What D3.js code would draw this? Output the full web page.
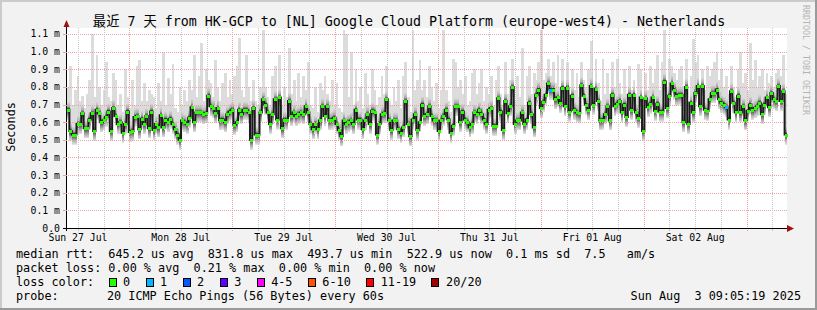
<!DOCTYPE html>
<html>
<head>
<meta charset="utf-8">
<script src="https://cdn.jsdelivr.net/npm/d3@7"></script>
<style>
body { margin: 0; background: #f2f2f2; }
svg text { font-family: "DejaVu Sans Mono", "Noto Sans CJK SC", monospace; white-space: pre; fill: #000; }
</style>
</head>
<body>
<svg id="chart" width="817" height="310"></svg>
<script>
// median rtt per step, in ms
const rttMedian = [
    0.67,0.55,0.53,0.53,0.59,0.59,0.65,0.565,0.565,0.615,
    0.65,0.55,0.67,0.65,0.60,0.61,0.63,0.66,0.55,0.68,
    0.635,0.59,0.60,0.54,0.59,0.66,0.545,0.55,0.63,0.635,
    0.56,0.62,0.59,0.635,0.565,0.66,0.555,0.59,0.57,0.64,
    0.57,0.615,0.60,0.62,0.59,0.56,0.53,0.50,0.61,0.60,
    0.59,0.625,0.685,0.60,0.655,0.655,0.655,0.645,0.65,0.75,
    0.69,0.68,0.65,0.68,0.61,0.615,0.60,0.645,0.66,0.67,
    0.585,0.60,0.67,0.645,0.67,0.67,0.655,0.50,
    0.68,0.53,0.53,0.655,0.73,0.70,0.655,0.59,0.645,0.73,
    0.615,0.74,0.565,0.615,0.61,0.72,0.635,0.655,0.635,0.645,
    0.655,0.645,0.69,0.655,0.59,0.56,0.59,0.56,0.61,0.69,
    0.635,0.69,0.61,0.615,0.625,0.59,0.555,0.52,0.61,0.59,
    0.60,0.61,0.59,0.67,0.615,0.615,0.56,0.61,0.645,0.59,
    0.665,0.655,0.53,0.59,0.645,0.65,0.73,0.61,0.555,0.61,
    0.61,0.56,0.54,0.57,0.72,0.59,0.52,0.615,0.645,0.555,
    0.60,0.70,0.635,0.645,0.69,
    0.635,0.61,0.61,0.55,0.61,0.635,0.67,0.615,0.54,0.58,
    0.69,0.69,0.60,0.66,0.615,0.60,0.57,0.59,0.655,0.645,
    0.67,0.645,0.615,0.59,0.67,0.68,0.58,0.58,0.735,0.66,
    0.555,0.72,0.65,0.69,0.80,0.59,0.61,0.61,0.655,0.59,
    0.615,0.71,0.645,0.57,0.755,0.785,0.68,0.715,0.755,0.82,
    0.785,0.785,0.73,0.74,0.71,0.795,0.69,0.795,0.66,0.75,
    0.67,0.655,0.65,0.81,0.75,0.70,0.67,0.805,0.70,0.79,
    0.72,0.61,0.615,0.645,0.69,
    0.61,0.755,0.69,0.705,0.72,0.655,0.70,0.63,0.755,0.67,
    0.755,0.655,0.625,0.74,0.55,0.735,0.685,0.705,0.74,0.665,
    0.705,0.66,0.66,0.83,0.68,0.75,0.82,0.785,0.75,0.755,
    0.755,0.60,0.80,0.59,0.71,0.655,0.765,0.805,0.69,0.805,
    0.67,0.665,0.73,0.765,0.765,0.785,0.73,0.71,0.70,0.685,
    0.615,0.775,0.71,0.655,0.75,0.655,0.69,0.61,0.665,0.70,
    0.67,0.68,0.69,0.71,0.645,0.70,0.74,0.685,0.765,0.73,
    0.72,0.805,0.72,0.775,0.53
];

// slowest ping per step (top of the smoke), in ms
const rttMax = [
    0.80,0.92,0.70,0.78,0.86,0.72,0.75,0.68,0.76,0.84,
    1.10,0.74,0.98,0.80,0.70,0.78,0.94,0.74,0.72,0.88,
    0.84,0.70,0.76,0.66,0.90,0.74,0.68,0.84,0.70,0.92,
    0.95,0.72,0.82,0.72,0.78,0.76,0.74,0.68,0.82,0.72,
    1.00,0.70,0.85,0.76,0.93,0.68,0.66,0.80,0.70,0.78,
    0.72,0.84,0.78,0.98,0.74,0.86,1.05,0.72,0.90,0.84,
    0.82,0.74,0.95,0.80,0.72,0.82,0.88,0.74,0.84,0.76,
    0.86,0.92,1.08,0.78,0.74,0.98,0.80,0.72,
    0.84,0.72,0.70,0.80,1.12,0.80,0.74,0.70,0.86,0.92,
    0.72,0.98,0.70,0.80,0.74,1.02,0.76,0.84,0.72,0.88,
    0.74,0.86,0.78,0.94,0.70,0.68,0.80,0.66,0.82,0.78,
    0.86,0.76,0.72,0.84,0.70,0.82,0.68,0.66,1.12,1.10,
    0.74,1.00,0.70,0.90,0.72,0.80,0.68,0.88,0.76,0.70,
    0.90,0.78,0.70,0.74,0.86,0.76,0.92,0.72,0.70,0.80,
    0.72,0.84,0.68,0.86,0.94,0.74,0.66,1.12,0.78,0.84,
    0.95,0.78,0.84,0.74,0.92,
    0.80,0.72,0.82,0.68,0.78,1.12,0.78,0.72,0.66,0.96,
    0.94,0.80,0.84,0.76,0.86,0.70,0.72,0.88,0.90,0.76,
    0.82,0.90,0.72,0.80,0.76,0.86,0.70,0.84,0.92,0.76,
    0.70,0.94,0.76,0.84,0.96,0.72,0.86,0.74,1.02,0.70,
    0.86,0.92,0.76,0.88,0.84,0.94,1.12,0.84,0.88,0.96,
    0.86,0.94,0.82,0.98,0.80,0.96,0.78,0.94,0.76,0.90,
    0.78,0.88,0.74,0.94,0.84,0.80,0.90,1.06,0.80,0.96,
    0.82,0.72,0.96,0.76,0.88,
    0.76,0.94,0.80,0.96,0.82,0.76,0.90,0.72,0.92,0.78,
    0.84,0.76,0.93,0.90,0.70,0.88,0.78,0.92,0.82,0.90,
    0.98,0.78,0.94,1.12,0.80,0.96,0.92,0.88,0.84,0.90,
    0.92,0.76,0.96,0.72,0.86,1.07,0.94,0.98,0.80,0.90,
    0.78,0.92,0.86,0.90,0.94,1.00,0.84,0.90,0.80,0.86,
    0.76,0.92,0.80,0.74,0.90,1.00,0.82,0.88,0.78,1.05,
    0.84,0.95,0.80,0.86,0.90,0.78,0.88,0.82,0.86,0.80,
    0.88,0.90,0.86,0.98,0.76
];

// steps where one of the 20 pings was lost
const lossOneSteps = [203, 277];

const yTicks = [0, 0.1, 0.2, 0.3, 0.4, 0.5, 0.6, 0.7, 0.8, 0.9, 1.0, 1.1];
const dayLabels = ['Sun 27 Jul', 'Mon 28 Jul', 'Tue 29 Jul', 'Wed 30 Jul', 'Thu 31 Jul', 'Fri 01 Aug', 'Sat 02 Aug'];
const lossLegend = [
    ['0', '#26ff00'], ['1', '#00b8ff'], ['2', '#0059ff'], ['3', '#5e00ff'],
    ['4-5', '#ff00ff'], ['6-10', '#ff5500'], ['11-19', '#ff0000'], ['20/20', '#a10000']
];
const titleText = '最近 7 天 from HK-GCP to [NL] Google Cloud Platform (europe-west4) - Netherlands';
const statLines = [
    'median rtt:  645.2 us avg  831.8 us max  493.7 us min  522.9 us now  0.1 ms sd  7.5   am/s',
    'packet loss: 0.00 % avg  0.21 % max  0.00 % min  0.00 % now'
];
const probeText = '20 ICMP Echo Pings (56 Bytes) every 60s';
const stampText = 'Sun Aug  3 09:05:19 2025';

const start = Date.UTC(2025, 6, 27, 9, 26);
const end = start + 7 * 864e5;
const step = (end - start) / rttMedian.length;

const x = d3.scaleUtc().domain([start, end]).range([67, 787]);
const y = d3.scaleLinear().domain([0, 1.134]).range([228, 28]);
const px = v => Math.round(v) + 0.5;

const data = rttMedian.map((m, i) => ({
    t0: start + i * step,
    t1: start + (i + 1) * step,
    med: m,
    max: rttMax[i],
    color: lossOneSteps.includes(i) ? '#00b8ff' : '#26ff00'
}));

const svg = d3.select('#chart');

// frame
svg.append('rect').attr('width', 817).attr('height', 310).attr('fill', '#f2f2f2');
svg.append('path').attr('fill', '#cbcbcb').attr('d', 'M0,0H817V2H2V310H0Z');
svg.append('path').attr('fill', '#9a9a9a').attr('d', 'M817,0V310H0V308H815V0Z');

// canvas
svg.append('rect')
    .attr('x', 67).attr('y', 28)
    .attr('width', 720).attr('height', 200)
    .attr('fill', '#fff');

const grad = svg.append('defs').append('linearGradient')
    .attr('id', 'core')
    .attr('x1', 0).attr('y1', 0).attr('x2', 0).attr('y2', 1);
[[0, '#dadada'], [0.25, '#acacac'], [0.38, '#5a5a5a'], [0.45, '#303030'],
 [0.58, '#6c6c6c'], [0.78, '#b0b0b0'], [1, '#e2e2e2']].forEach(s => {
    grad.append('stop').attr('offset', s[0]).attr('stop-color', s[1]);
});

// smoke
const smoke = svg.append('g').attr('shape-rendering', 'crispEdges');

smoke.selectAll('rect.light')
    .data(data)
    .join('rect')
    .classed('light', true)
    .attr('x', d => x(d.t0))
    .attr('width', d => x(d.t1) - x(d.t0) + 0.4)
    .attr('y', d => y(d.max))
    .attr('height', d => y(d.med) + 9 - y(d.max))
    .attr('fill', '#dcdcdc');

smoke.selectAll('rect.core')
    .data(data)
    .join('rect')
    .classed('core', true)
    .attr('x', d => x(d.t0))
    .attr('width', d => x(d.t1) - x(d.t0) + 0.4)
    .attr('y', d => y(d.med) - 8)
    .attr('height', 18)
    .attr('fill', 'url(#core)');

// grid
const grid = svg.append('g').attr('shape-rendering', 'crispEdges');
const minorTimes = d3.utcHour.every(6).range(start, end).filter(t => t.getUTCHours() !== 0);
const majorTimes = d3.utcDay.range(start, end);

grid.selectAll('line.hgrid')
    .data(yTicks.slice(1))
    .join('line')
    .attr('x1', 64).attr('x2', 787)
    .attr('y1', d => px(y(d))).attr('y2', d => px(y(d)))
    .attr('stroke', '#f0a0a0')
    .attr('stroke-dasharray', '1 1');

grid.selectAll('line.minor')
    .data(minorTimes)
    .join('line')
    .classed('minor', true)
    .attr('x1', d => px(x(d))).attr('x2', d => px(x(d)))
    .attr('y1', 28).attr('y2', 228)
    .attr('stroke', '#c8c8c8')
    .attr('stroke-dasharray', '1 1');

grid.selectAll('line.major')
    .data(majorTimes)
    .join('line')
    .classed('major', true)
    .attr('x1', d => px(x(d))).attr('x2', d => px(x(d)))
    .attr('y1', 28).attr('y2', 231)
    .attr('stroke', '#f0a0a0')
    .attr('stroke-dasharray', '1 1');

grid.selectAll('line.mtick')
    .data(minorTimes)
    .join('line')
    .classed('mtick', true)
    .attr('x1', d => px(x(d))).attr('x2', d => px(x(d)))
    .attr('y1', 228).attr('y2', 231)
    .attr('stroke', '#c8c8c8');

// median line and loss markers
const medLine = d3.line()
    .x(d => x(d[0]))
    .y(d => y(d[1]))
    .curve(d3.curveStepAfter);

svg.append('path')
    .datum(data.map(d => [d.t0, d.med]).concat([[end, data[data.length - 1].med]]))
    .attr('d', medLine)
    .attr('fill', 'none')
    .attr('stroke', '#1a1a1a')
    .attr('stroke-width', 2);

svg.append('g')
    .attr('shape-rendering', 'crispEdges')
    .selectAll('rect')
    .data(data)
    .join('rect')
    .attr('x', d => Math.round(x(d.t0)))
    .attr('width', 3)
    .attr('y', d => Math.round(y(d.med)) - 1)
    .attr('height', 3)
    .attr('fill', d => d.color);

// axes
const axes = svg.append('g').attr('shape-rendering', 'crispEdges');
axes.append('line')
    .attr('x1', 63).attr('x2', 788).attr('y1', 228.5).attr('y2', 228.5)
    .attr('stroke', '#000');
axes.append('line')
    .attr('x1', 66.5).attr('x2', 66.5).attr('y1', 231).attr('y2', 24)
    .attr('stroke', '#000');
axes.selectAll('line.ytick')
    .data(yTicks)
    .join('line')
    .classed('ytick', true)
    .attr('x1', 63).attr('x2', 67)
    .attr('y1', d => px(y(d))).attr('y2', d => px(y(d)))
    .attr('stroke', d => d === 0 ? '#000' : '#f0a0a0');

svg.append('path').attr('fill', '#a01010').attr('d', 'M787,225L794,228.5L787,232Z');
svg.append('path').attr('fill', '#a01010').attr('d', 'M63.5,27L66.5,20L69.5,27Z');

svg.append('g')
    .selectAll('text')
    .data(yTicks)
    .join('text')
    .attr('x', 60)
    .attr('y', d => y(d) + 3.5)
    .attr('text-anchor', 'end')
    .style('font-size', '9.8px')
    .text(d => d === 0 ? '0.0' : d.toFixed(1) + ' m');

svg.append('g')
    .selectAll('text')
    .data(dayLabels)
    .join('text')
    .attr('x', (d, i) => x(Date.UTC(2025, 6, 27 + i, 12)))
    .attr('y', 241)
    .attr('text-anchor', 'middle')
    .style('font-size', '9.8px')
    .text(d => d);

// titles
svg.append('text')
    .attr('x', 409).attr('y', 26)
    .attr('text-anchor', 'middle')
    .style('font-size', '13.3px')
    .text(titleText);

svg.append('text')
    .attr('transform', 'translate(15,127) rotate(-90)')
    .attr('text-anchor', 'middle')
    .style('font-size', '11.8px')
    .text('Seconds');

svg.append('text')
    .attr('transform', 'translate(803,5) rotate(90)')
    .style('font-size', '8.3px')
    .style('fill', '#b4b4b4')
    .text('RRDTOOL / TOBI OETIKER');

// legend
const legend = svg.append('g').style('font-size', '11.8px');
statLines.forEach((s, i) => {
    legend.append('text').attr('x', 16).attr('y', 258.3 + i * 14).text(s);
});
legend.append('text').attr('x', 16).attr('y', 286.4).text('loss color:');
legend.append('text').attr('x', 16).attr('y', 300.4).text('probe:');
legend.append('text').attr('x', 107).attr('y', 300.4).text(probeText);
legend.append('text').attr('x', 801).attr('y', 300.4).attr('text-anchor', 'end').text(stampText);

let bx = 108.5;
lossLegend.forEach(d => {
    legend.append('rect')
        .attr('x', Math.round(bx) + 0.5).attr('y', 278.5)
        .attr('width', 7).attr('height', 8)
        .attr('fill', d[1])
        .attr('stroke', '#000');
    const t = legend.append('text')
        .attr('x', bx + 14.6).attr('y', 286.4)
        .text(d[0]);
    bx += 14.6 + t.node().getComputedTextLength() + 15.3;
});
</script>
</body>
</html>
